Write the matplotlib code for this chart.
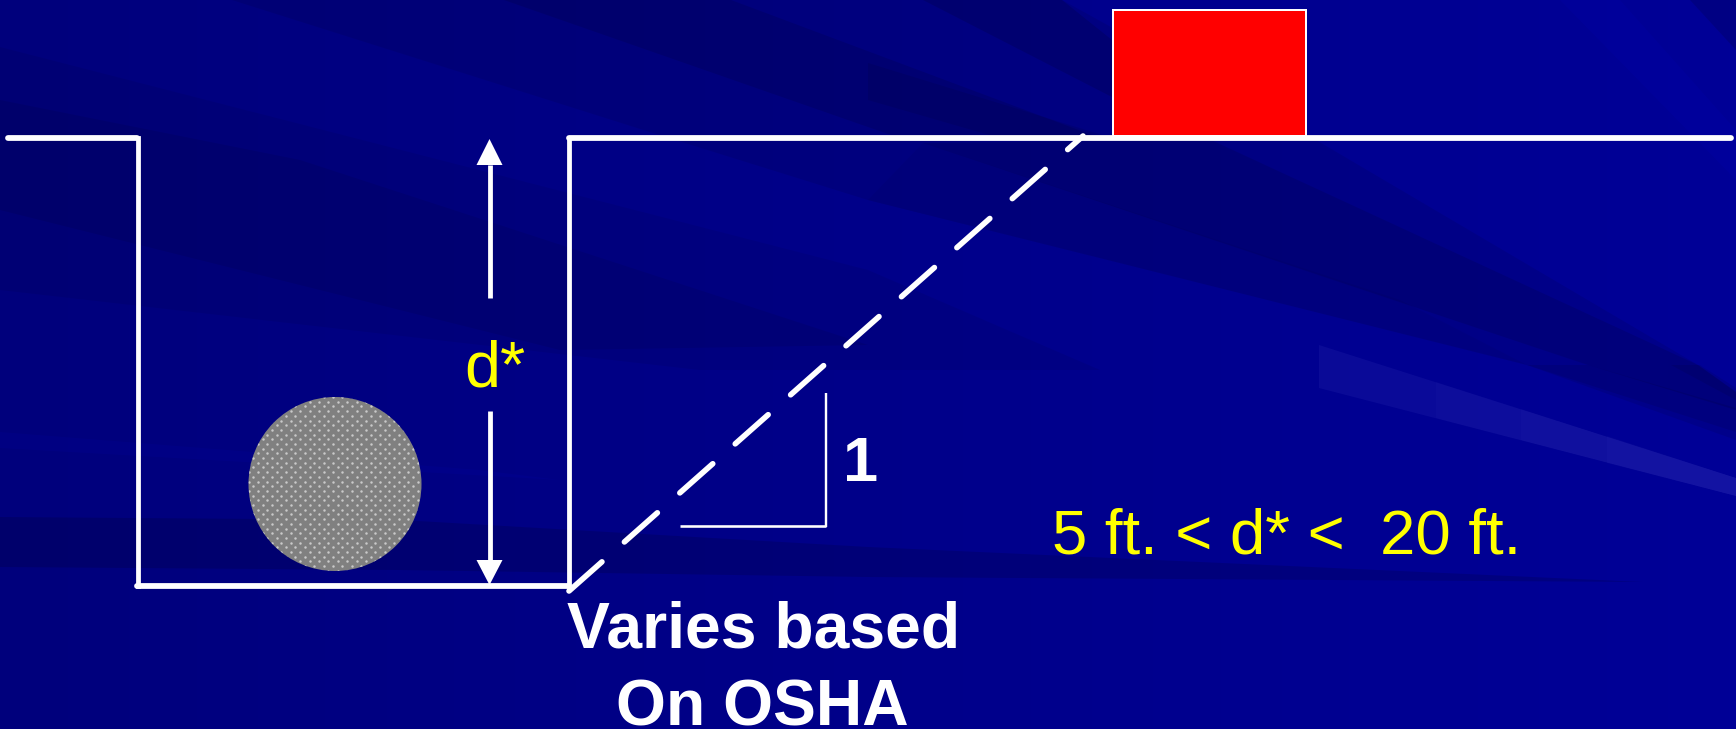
import numpy as np
import matplotlib
matplotlib.use("Agg")
import matplotlib.pyplot as plt
from matplotlib.patches import Polygon, Rectangle, Ellipse

plt.rcParams['font.family'] = ['Liberation Sans', 'DejaVu Sans']
plt.rcParams['lines.scale_dashes'] = False

W, H = 1736, 729
PX = 0.72

# background tone stops (left, right)
bg_left = (0.0, 0.0, 0x7C / 255)
bg_right = (0.0, 0.0, 0x97 / 255)

# darker streaks: outline, strength
dark_streaks = [
    ([(232, 0), (1062, 0), (1316, 140), (1698, 365), (1736, 392), (1736, 440), (1527, 365), (868, 200), (653, 133)], 0.08),
    ([(504, 0), (731, 0), (1100, 138), (900, 138), (868, 127)], 0.10),
    ([(923, 0), (1062, 0), (1112, 40), (1112, 97)], 0.12),
    ([(868, 63), (1112, 138), (1000, 138), (868, 100)], 0.08),
    ([(923, 143), (1211, 140), (1698, 365), (1736, 392), (1736, 410), (1588, 365)], 0.10),
    ([(868, 200), (923, 143), (1400, 300), (1527, 365)], 0.04),
    ([(0, 47), (868, 270), (1100, 370), (700, 370), (0, 290)], 0.06),
    ([(0, 100), (300, 160), (868, 345), (560, 350), (0, 210)], 0.07),
    ([(0, 517), (400, 520), (868, 547), (1643, 582), (868, 577), (400, 570), (0, 567)], 0.13),
    ([(1527, 365), (1588, 365), (1736, 408), (1736, 432)], 0.08),
    ([(1671, 365), (1700, 365), (1736, 388), (1736, 400)], 0.08),
    ([(1690, 0), (1736, 0), (1736, 50)], 0.12),
]
# lighter streaks: outline, colour, strength
light_streaks = [
    ([(0, 432), (480, 470), (560, 480), (0, 448)], (0, 0, 0.75), 0.10),
    ([(1319, 345), (1736, 478), (1736, 496), (1319, 388)], (0.25, 0.25, 0.75), 0.16),
    ([(1436, 382), (1736, 478), (1736, 496), (1436, 418)], (0.25, 0.25, 0.75), 0.07),
    ([(1521, 409), (1736, 478), (1736, 496), (1521, 440)], (0.25, 0.25, 0.75), 0.08),
    ([(1607, 436), (1736, 478), (1736, 496), (1607, 463)], (0.25, 0.25, 0.75), 0.08),
    ([(1560, 0), (1620, 0), (1736, 130), (1736, 180)], (0, 0, 0.8), 0.10),
]

# trench and ground outline
h_segments = [((8, 138), (137, 138)), ((137, 586), (569, 586)), ((569, 138), (1731, 138))]
v_segments = [((138, 138), (138, 586)), ((569, 138), (569, 586))]
slope_start = (569, 591)
slope_end = (1083, 136)

load_left, load_top, load_right, load_bottom = 1113, 10, 1306, 136
pipe_center = (335, 484)
pipe_rx, pipe_ry = 86.5, 87

arrow_x = 489.5
arrow_up = dict(tip=139, base=165, tail=298)
arrow_down = dict(tip=585, base=560, tail=411)
arrow_half = 13

tri_h = ((680, 526), (826, 526))
tri_v = ((826, 393), (826, 527))

labels = [
    ("d*", 464, 386, 'yellow', 'normal', 46.5),
    ("5 ft. < d* <  20 ft.", 1052, 554, 'yellow', 'normal', 45.7),
    ("1", 843, 481, 'white', 'bold', 45.5),
]
centered = [("Varies based", 764, 648), ("On OSHA", 762, 725)]

fig = plt.figure(figsize=(W / 100, H / 100), dpi=100)
ax = fig.add_axes([0, 0, 1, 1])
ax.set_xlim(0, W)
ax.set_ylim(H, 0)
ax.axis('off')

grad = np.linspace(0, 1, 256)[None, :, None]
img = (1 - grad) * np.array(bg_left) + grad * np.array(bg_right)
ax.imshow(img, extent=(0, W, H, 0), aspect='auto', zorder=0)

for pts, a in dark_streaks:
    ax.add_patch(Polygon(pts, closed=True, fc='black', ec='none', alpha=a, zorder=1))
for pts, c, a in light_streaks:
    ax.add_patch(Polygon(pts, closed=True, fc=c, ec='none', alpha=a, zorder=1))

# pipe
pipe = Ellipse(pipe_center, 2 * pipe_rx, 2 * pipe_ry, fc='#808080', ec='none', zorder=2)
ax.add_patch(pipe)
xs, ys = [], []
step_x, step_y = 9.4, 4.7
for j, yy in enumerate(np.arange(pipe_center[1] - pipe_ry, pipe_center[1] + pipe_ry, step_y)):
    off = step_x / 2 if j % 2 else 0
    for xx in np.arange(pipe_center[0] - pipe_rx + off, pipe_center[0] + pipe_rx, step_x):
        xs.append(xx)
        ys.append(yy)
dots = ax.scatter(xs, ys, s=3.2, c='#C9C9C9', linewidths=0, zorder=3)
dots.set_clip_path(pipe)

# load
ax.add_patch(Rectangle((load_left, load_top), load_right - load_left, load_bottom - load_top,
                       fc='#FF0000', ec='white', lw=2.0 * PX, zorder=3))

# slope
ax.plot([slope_start[0], slope_end[0]], [slope_start[1], slope_end[1]], color='white', lw=5.6 * PX,
        linestyle=(0, (44 * PX, 30 * PX)), dash_capstyle='round', zorder=4)

# outline
for a, b in h_segments:
    ax.plot([a[0], b[0]], [a[1], b[1]], color='white', lw=5.8 * PX, solid_capstyle='round', zorder=5)
for a, b in v_segments:
    ax.plot([a[0], b[0]], [a[1], b[1]], color='white', lw=4.8 * PX, solid_capstyle='projecting', zorder=5)

# dimension arrows
for ar in (arrow_up, arrow_down):
    ax.plot([arrow_x, arrow_x], [ar['tail'], ar['base']], color='white', lw=4.8 * PX, solid_capstyle='butt', zorder=5)
    ax.add_patch(Polygon([(arrow_x, ar['tip']), (arrow_x - arrow_half, ar['base']), (arrow_x + arrow_half, ar['base'])],
                         closed=True, fc='white', ec='none', zorder=5))

# slope triangle
ax.plot([tri_h[0][0], tri_h[1][0]], [tri_h[0][1], tri_h[1][1]], color='white', lw=2.6 * PX, solid_capstyle='butt', zorder=5)
ax.plot([tri_v[0][0], tri_v[1][0]], [tri_v[0][1], tri_v[1][1]], color='white', lw=2.4 * PX, solid_capstyle='butt', zorder=5)

for s, x, y, c, w, fs in labels:
    ax.text(x, y, s, color=c, fontsize=fs, fontweight=w, ha='left', va='baseline', zorder=6)
for s, x, y in centered:
    ax.text(x, y, s, color='white', fontsize=46.3, fontweight='bold', ha='center', va='baseline', zorder=6)

fig.savefig('out.png', dpi=100)
